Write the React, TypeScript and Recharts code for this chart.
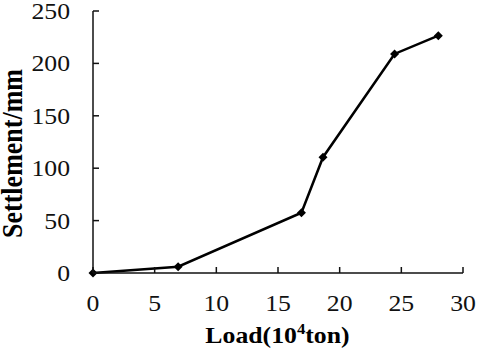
import React from "react";
import { LineChart, Line, XAxis, YAxis } from "recharts";

// load in 10^4 ton, settlement in mm
const loads = [0, 6.9, 16.9, 18.65, 24.45, 28];
const settlements = [0, 6, 57.5, 110.5, 209, 226.5];
const xTicks = [0, 5, 10, 15, 20, 25, 30];
const yTicks = [0, 50, 100, 150, 200, 250];

const data = loads.map((load, i) => ({ load, settlement: settlements[i] }));

const FONT = "'Times New Roman', Tinos, 'Liberation Serif', 'DejaVu Serif', serif";
const SX = 1.12;

function XTick({ x, y, payload }: any) {
  return (
    <g>
      <line x1={x} y1={y} x2={x} y2={y - 6} stroke="#111" strokeWidth={1.5} />
      <text
        transform={`translate(${x},${y + 38}) scale(${SX},1)`}
        textAnchor="middle"
        fontFamily={FONT}
        fontSize={23}
        fill="#111"
      >
        {payload.value}
      </text>
    </g>
  );
}

function YTick({ x, y, payload }: any) {
  return (
    <g>
      <line x1={x} y1={y} x2={x + 6} y2={y} stroke="#111" strokeWidth={1.5} />
      <text
        transform={`translate(${x - 23},${y + 8}) scale(${SX},1)`}
        textAnchor="end"
        fontFamily={FONT}
        fontSize={23}
        fill="#111"
      >
        {payload.value}
      </text>
    </g>
  );
}

function Diamond({ cx, cy }: any) {
  const r = 4.5;
  return <path d={`M${cx},${cy - r}L${cx + r},${cy}L${cx},${cy + r}L${cx - r},${cy}Z`} fill="#000" />;
}

export default function App() {
  return (
    <div style={{ width: 477, height: 352 }}>
      <style>{"body{margin:0}"}</style>
      <LineChart
        width={477}
        height={352}
        data={data}
        margin={{ top: 11, right: 14, bottom: 0, left: 0 }}
      >
        <XAxis
          type="number"
          dataKey="load"
          domain={[0, 30]}
          ticks={xTicks}
          interval={0}
          height={79}
          tickSize={0}
          tickMargin={0}
          tickLine={false}
          tick={<XTick />}
          axisLine={{ stroke: "#111", strokeWidth: 1.5 }}
        />
        <YAxis
          type="number"
          domain={[0, 250]}
          ticks={yTicks}
          interval={0}
          width={93}
          tickSize={0}
          tickMargin={0}
          tickLine={false}
          tick={<YTick />}
          axisLine={{ stroke: "#111", strokeWidth: 1.5 }}
        />
        <Line
          type="linear"
          dataKey="settlement"
          stroke="#000"
          strokeWidth={2.5}
          dot={(p: any) => <Diamond key={p.index} {...p} />}
          activeDot={false}
          isAnimationActive={false}
        />
        <text
          transform={`translate(277.5,343) scale(${SX},1)`}
          textAnchor="middle"
          fontFamily={FONT}
          fontSize={23}
          fontWeight="bold"
          fill="#000"
        >
          Load(10
          <tspan fontSize={15} dy={-9}>4</tspan>
          <tspan dy={9}>ton)</tspan>
        </text>
        <text
          transform={`translate(21.5,153.5) scale(${SX},1) rotate(-90)`}
          textAnchor="middle"
          fontFamily={FONT}
          fontSize={26}
          fontWeight="bold"
          fill="#000"
        >
          Settlement/mm
        </text>
      </LineChart>
    </div>
  );
}
